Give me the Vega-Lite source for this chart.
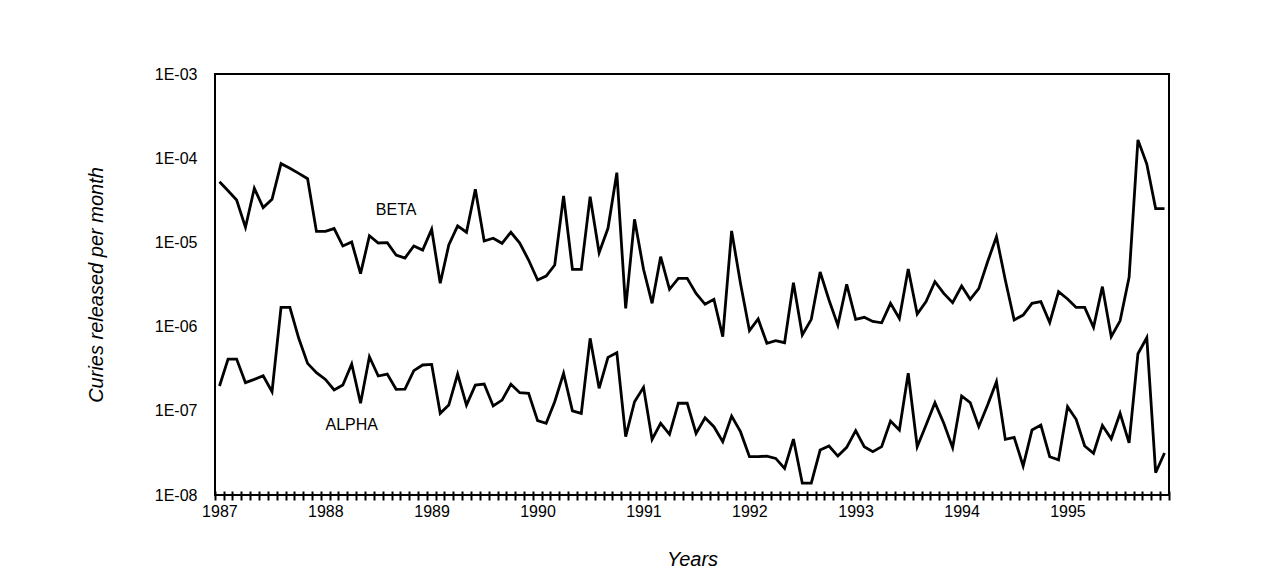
{
  "$schema": "https://vega.github.io/schema/vega-lite/v6.json",
  "width": 954,
  "height": 421,
  "autosize": {"type": "none"},
  "padding": {"left": 215, "top": 74, "right": 92, "bottom": 87},
  "background": "white",
  "config": {
    "view": {"stroke": "black", "strokeWidth": 2},
    "font": "Liberation Sans"
  },
  "datasets": {
    "series": [
      {"d": "1987-01", "s": "BETA", "v": 5.26e-5}, {"d": "1987-02", "s": "BETA", "v": 4.11e-5}, {"d": "1987-03", "s": "BETA", "v": 3.19e-5}, {"d": "1987-04", "s": "BETA", "v": 1.51e-5},
      {"d": "1987-05", "s": "BETA", "v": 4.39e-5}, {"d": "1987-06", "s": "BETA", "v": 2.59e-5}, {"d": "1987-07", "s": "BETA", "v": 3.25e-5}, {"d": "1987-08", "s": "BETA", "v": 8.61e-5},
      {"d": "1987-09", "s": "BETA", "v": 7.58e-5}, {"d": "1987-10", "s": "BETA", "v": 6.61e-5}, {"d": "1987-11", "s": "BETA", "v": 5.71e-5}, {"d": "1987-12", "s": "BETA", "v": 1.35e-5},
      {"d": "1988-01", "s": "BETA", "v": 1.35e-5}, {"d": "1988-02", "s": "BETA", "v": 1.46e-5}, {"d": "1988-03", "s": "BETA", "v": 9.06e-6}, {"d": "1988-04", "s": "BETA", "v": 1.01e-5},
      {"d": "1988-05", "s": "BETA", "v": 4.25e-6}, {"d": "1988-06", "s": "BETA", "v": 1.2e-5}, {"d": "1988-07", "s": "BETA", "v": 9.84e-6}, {"d": "1988-08", "s": "BETA", "v": 9.93e-6},
      {"d": "1988-09", "s": "BETA", "v": 7.08e-6}, {"d": "1988-10", "s": "BETA", "v": 6.53e-6}, {"d": "1988-11", "s": "BETA", "v": 9.06e-6}, {"d": "1988-12", "s": "BETA", "v": 8.12e-6},
      {"d": "1989-01", "s": "BETA", "v": 1.43e-5}, {"d": "1989-02", "s": "BETA", "v": 3.27e-6}, {"d": "1989-03", "s": "BETA", "v": 9.31e-6}, {"d": "1989-04", "s": "BETA", "v": 1.57e-5},
      {"d": "1989-05", "s": "BETA", "v": 1.32e-5}, {"d": "1989-06", "s": "BETA", "v": 4.27e-5}, {"d": "1989-07", "s": "BETA", "v": 1.04e-5}, {"d": "1989-08", "s": "BETA", "v": 1.12e-5},
      {"d": "1989-09", "s": "BETA", "v": 9.75e-6}, {"d": "1989-10", "s": "BETA", "v": 1.32e-5}, {"d": "1989-11", "s": "BETA", "v": 9.8e-6}, {"d": "1989-12", "s": "BETA", "v": 6.18e-6},
      {"d": "1990-01", "s": "BETA", "v": 3.58e-6}, {"d": "1990-02", "s": "BETA", "v": 3.99e-6}, {"d": "1990-03", "s": "BETA", "v": 5.39e-6}, {"d": "1990-04", "s": "BETA", "v": 3.56e-5},
      {"d": "1990-05", "s": "BETA", "v": 4.79e-6}, {"d": "1990-06", "s": "BETA", "v": 4.79e-6}, {"d": "1990-07", "s": "BETA", "v": 3.49e-5}, {"d": "1990-08", "s": "BETA", "v": 7.55e-6},
      {"d": "1990-09", "s": "BETA", "v": 1.47e-5}, {"d": "1990-10", "s": "BETA", "v": 6.73e-5}, {"d": "1990-11", "s": "BETA", "v": 1.65e-6}, {"d": "1990-12", "s": "BETA", "v": 1.88e-5},
      {"d": "1991-01", "s": "BETA", "v": 4.79e-6}, {"d": "1991-02", "s": "BETA", "v": 1.89e-6}, {"d": "1991-03", "s": "BETA", "v": 6.77e-6}, {"d": "1991-04", "s": "BETA", "v": 2.77e-6},
      {"d": "1991-05", "s": "BETA", "v": 3.74e-6}, {"d": "1991-06", "s": "BETA", "v": 3.74e-6}, {"d": "1991-07", "s": "BETA", "v": 2.48e-6}, {"d": "1991-08", "s": "BETA", "v": 1.84e-6},
      {"d": "1991-09", "s": "BETA", "v": 2.11e-6}, {"d": "1991-10", "s": "BETA", "v": 7.59e-7}, {"d": "1991-11", "s": "BETA", "v": 1.37e-5}, {"d": "1991-12", "s": "BETA", "v": 3.27e-6},
      {"d": "1992-01", "s": "BETA", "v": 8.95e-7}, {"d": "1992-02", "s": "BETA", "v": 1.23e-6}, {"d": "1992-03", "s": "BETA", "v": 6.33e-7}, {"d": "1992-04", "s": "BETA", "v": 6.81e-7},
      {"d": "1992-05", "s": "BETA", "v": 6.44e-7}, {"d": "1992-06", "s": "BETA", "v": 3.32e-6}, {"d": "1992-07", "s": "BETA", "v": 7.95e-7}, {"d": "1992-08", "s": "BETA", "v": 1.22e-6},
      {"d": "1992-09", "s": "BETA", "v": 4.45e-6}, {"d": "1992-10", "s": "BETA", "v": 2.07e-6}, {"d": "1992-11", "s": "BETA", "v": 1.04e-6}, {"d": "1992-12", "s": "BETA", "v": 3.18e-6},
      {"d": "1993-01", "s": "BETA", "v": 1.22e-6}, {"d": "1993-02", "s": "BETA", "v": 1.29e-6}, {"d": "1993-03", "s": "BETA", "v": 1.15e-6}, {"d": "1993-04", "s": "BETA", "v": 1.11e-6},
      {"d": "1993-05", "s": "BETA", "v": 1.89e-6}, {"d": "1993-06", "s": "BETA", "v": 1.25e-6}, {"d": "1993-07", "s": "BETA", "v": 4.83e-6}, {"d": "1993-08", "s": "BETA", "v": 1.41e-6},
      {"d": "1993-09", "s": "BETA", "v": 1.98e-6}, {"d": "1993-10", "s": "BETA", "v": 3.42e-6}, {"d": "1993-11", "s": "BETA", "v": 2.48e-6}, {"d": "1993-12", "s": "BETA", "v": 1.92e-6},
      {"d": "1994-01", "s": "BETA", "v": 3.03e-6}, {"d": "1994-02", "s": "BETA", "v": 2.11e-6}, {"d": "1994-03", "s": "BETA", "v": 2.82e-6}, {"d": "1994-04", "s": "BETA", "v": 5.9e-6},
      {"d": "1994-05", "s": "BETA", "v": 1.17e-5}, {"d": "1994-06", "s": "BETA", "v": 3.58e-6}, {"d": "1994-07", "s": "BETA", "v": 1.2e-6}, {"d": "1994-08", "s": "BETA", "v": 1.37e-6},
      {"d": "1994-09", "s": "BETA", "v": 1.89e-6}, {"d": "1994-10", "s": "BETA", "v": 1.98e-6}, {"d": "1994-11", "s": "BETA", "v": 1.12e-6}, {"d": "1994-12", "s": "BETA", "v": 2.6e-6},
      {"d": "1995-01", "s": "BETA", "v": 2.13e-6}, {"d": "1995-02", "s": "BETA", "v": 1.69e-6}, {"d": "1995-03", "s": "BETA", "v": 1.69e-6}, {"d": "1995-04", "s": "BETA", "v": 9.8e-7},
      {"d": "1995-05", "s": "BETA", "v": 2.98e-6}, {"d": "1995-06", "s": "BETA", "v": 7.6e-7}, {"d": "1995-07", "s": "BETA", "v": 1.17e-6}, {"d": "1995-08", "s": "BETA", "v": 3.84e-6},
      {"d": "1995-09", "s": "BETA", "v": 1.65e-4}, {"d": "1995-10", "s": "BETA", "v": 8.53e-5}, {"d": "1995-11", "s": "BETA", "v": 2.52e-5}, {"d": "1995-12", "s": "BETA", "v": 2.52e-5},
      {"d": "1987-01", "s": "ALPHA", "v": 1.97e-7}, {"d": "1987-02", "s": "ALPHA", "v": 4.12e-7}, {"d": "1987-03", "s": "ALPHA", "v": 4.12e-7}, {"d": "1987-04", "s": "ALPHA", "v": 2.16e-7},
      {"d": "1987-05", "s": "ALPHA", "v": 2.36e-7}, {"d": "1987-06", "s": "ALPHA", "v": 2.61e-7}, {"d": "1987-07", "s": "ALPHA", "v": 1.69e-7}, {"d": "1987-08", "s": "ALPHA", "v": 1.69e-6},
      {"d": "1987-09", "s": "ALPHA", "v": 1.69e-6}, {"d": "1987-10", "s": "ALPHA", "v": 7.26e-7}, {"d": "1987-11", "s": "ALPHA", "v": 3.66e-7}, {"d": "1987-12", "s": "ALPHA", "v": 2.84e-7},
      {"d": "1988-01", "s": "ALPHA", "v": 2.36e-7}, {"d": "1988-02", "s": "ALPHA", "v": 1.77e-7}, {"d": "1988-03", "s": "ALPHA", "v": 2.02e-7}, {"d": "1988-04", "s": "ALPHA", "v": 3.6e-7},
      {"d": "1988-05", "s": "ALPHA", "v": 1.23e-7}, {"d": "1988-06", "s": "ALPHA", "v": 4.39e-7}, {"d": "1988-07", "s": "ALPHA", "v": 2.59e-7}, {"d": "1988-08", "s": "ALPHA", "v": 2.73e-7},
      {"d": "1988-09", "s": "ALPHA", "v": 1.8e-7}, {"d": "1988-10", "s": "ALPHA", "v": 1.81e-7}, {"d": "1988-11", "s": "ALPHA", "v": 3.0e-7}, {"d": "1988-12", "s": "ALPHA", "v": 3.5e-7},
      {"d": "1989-01", "s": "ALPHA", "v": 3.56e-7}, {"d": "1989-02", "s": "ALPHA", "v": 9.33e-8}, {"d": "1989-03", "s": "ALPHA", "v": 1.17e-7}, {"d": "1989-04", "s": "ALPHA", "v": 2.73e-7},
      {"d": "1989-05", "s": "ALPHA", "v": 1.17e-7}, {"d": "1989-06", "s": "ALPHA", "v": 2.02e-7}, {"d": "1989-07", "s": "ALPHA", "v": 2.08e-7}, {"d": "1989-08", "s": "ALPHA", "v": 1.14e-7},
      {"d": "1989-09", "s": "ALPHA", "v": 1.34e-7}, {"d": "1989-10", "s": "ALPHA", "v": 2.07e-7}, {"d": "1989-11", "s": "ALPHA", "v": 1.64e-7}, {"d": "1989-12", "s": "ALPHA", "v": 1.61e-7},
      {"d": "1990-01", "s": "ALPHA", "v": 7.63e-8}, {"d": "1990-02", "s": "ALPHA", "v": 7.1e-8}, {"d": "1990-03", "s": "ALPHA", "v": 1.28e-7}, {"d": "1990-04", "s": "ALPHA", "v": 2.79e-7},
      {"d": "1990-05", "s": "ALPHA", "v": 1.0e-7}, {"d": "1990-06", "s": "ALPHA", "v": 9.33e-8}, {"d": "1990-07", "s": "ALPHA", "v": 7.26e-7}, {"d": "1990-08", "s": "ALPHA", "v": 1.85e-7},
      {"d": "1990-09", "s": "ALPHA", "v": 4.31e-7}, {"d": "1990-10", "s": "ALPHA", "v": 4.9e-7}, {"d": "1990-11", "s": "ALPHA", "v": 4.93e-8}, {"d": "1990-12", "s": "ALPHA", "v": 1.28e-7},
      {"d": "1991-01", "s": "ALPHA", "v": 1.9e-7}, {"d": "1991-02", "s": "ALPHA", "v": 4.58e-8}, {"d": "1991-03", "s": "ALPHA", "v": 7.1e-8}, {"d": "1991-04", "s": "ALPHA", "v": 5.25e-8},
      {"d": "1991-05", "s": "ALPHA", "v": 1.23e-7}, {"d": "1991-06", "s": "ALPHA", "v": 1.23e-7}, {"d": "1991-07", "s": "ALPHA", "v": 5.39e-8}, {"d": "1991-08", "s": "ALPHA", "v": 8.28e-8},
      {"d": "1991-09", "s": "ALPHA", "v": 6.48e-8}, {"d": "1991-10", "s": "ALPHA", "v": 4.3e-8}, {"d": "1991-11", "s": "ALPHA", "v": 8.67e-8}, {"d": "1991-12", "s": "ALPHA", "v": 5.65e-8},
      {"d": "1992-01", "s": "ALPHA", "v": 2.85e-8}, {"d": "1992-02", "s": "ALPHA", "v": 2.85e-8}, {"d": "1992-03", "s": "ALPHA", "v": 2.9e-8}, {"d": "1992-04", "s": "ALPHA", "v": 2.72e-8},
      {"d": "1992-05", "s": "ALPHA", "v": 2.07e-8}, {"d": "1992-06", "s": "ALPHA", "v": 4.62e-8}, {"d": "1992-07", "s": "ALPHA", "v": 1.38e-8}, {"d": "1992-08", "s": "ALPHA", "v": 1.38e-8},
      {"d": "1992-09", "s": "ALPHA", "v": 3.42e-8}, {"d": "1992-10", "s": "ALPHA", "v": 3.82e-8}, {"d": "1992-11", "s": "ALPHA", "v": 2.9e-8}, {"d": "1992-12", "s": "ALPHA", "v": 3.68e-8},
      {"d": "1993-01", "s": "ALPHA", "v": 5.81e-8}, {"d": "1993-02", "s": "ALPHA", "v": 3.75e-8}, {"d": "1993-03", "s": "ALPHA", "v": 3.27e-8}, {"d": "1993-04", "s": "ALPHA", "v": 3.75e-8},
      {"d": "1993-05", "s": "ALPHA", "v": 7.57e-8}, {"d": "1993-06", "s": "ALPHA", "v": 5.92e-8}, {"d": "1993-07", "s": "ALPHA", "v": 2.79e-7}, {"d": "1993-08", "s": "ALPHA", "v": 3.75e-8},
      {"d": "1993-09", "s": "ALPHA", "v": 6.78e-8}, {"d": "1993-10", "s": "ALPHA", "v": 1.25e-7}, {"d": "1993-11", "s": "ALPHA", "v": 7.1e-8}, {"d": "1993-12", "s": "ALPHA", "v": 3.65e-8},
      {"d": "1994-01", "s": "ALPHA", "v": 1.5e-7}, {"d": "1994-02", "s": "ALPHA", "v": 1.25e-7}, {"d": "1994-03", "s": "ALPHA", "v": 6.48e-8}, {"d": "1994-04", "s": "ALPHA", "v": 1.17e-7},
      {"d": "1994-05", "s": "ALPHA", "v": 2.22e-7}, {"d": "1994-06", "s": "ALPHA", "v": 4.58e-8}, {"d": "1994-07", "s": "ALPHA", "v": 4.84e-8}, {"d": "1994-08", "s": "ALPHA", "v": 2.21e-8},
      {"d": "1994-09", "s": "ALPHA", "v": 5.92e-8}, {"d": "1994-10", "s": "ALPHA", "v": 6.78e-8}, {"d": "1994-11", "s": "ALPHA", "v": 2.85e-8}, {"d": "1994-12", "s": "ALPHA", "v": 2.61e-8},
      {"d": "1995-01", "s": "ALPHA", "v": 1.12e-7}, {"d": "1995-02", "s": "ALPHA", "v": 7.92e-8}, {"d": "1995-03", "s": "ALPHA", "v": 3.82e-8}, {"d": "1995-04", "s": "ALPHA", "v": 3.13e-8},
      {"d": "1995-05", "s": "ALPHA", "v": 6.7e-8}, {"d": "1995-06", "s": "ALPHA", "v": 4.65e-8}, {"d": "1995-07", "s": "ALPHA", "v": 9.35e-8}, {"d": "1995-08", "s": "ALPHA", "v": 4.15e-8},
      {"d": "1995-09", "s": "ALPHA", "v": 4.76e-7}, {"d": "1995-10", "s": "ALPHA", "v": 7.38e-7}, {"d": "1995-11", "s": "ALPHA", "v": 1.84e-8}, {"d": "1995-12", "s": "ALPHA", "v": 3.15e-8}
    ],
    "labels": [
      {"d": "1988-09", "s": "BETA", "v": 2.43e-5},
      {"d": "1988-04", "s": "ALPHA", "v": 6.8e-8}
    ]
  },
  "layer": [
    {
      "data": {"name": "series"},
      "mark": {"type": "line", "color": "black", "strokeWidth": 2.8, "strokeJoin": "miter"},
      "encoding": {
        "x": {
          "field": "d", "type": "temporal", "timeUnit": "utcyearmonth", "bandPosition": 0.5,
          "scale": {"type": "utc", "domain": [{"year": 1987, "month": 1, "date": 1, "utc": true}, {"year": 1996, "month": 1, "date": 1, "utc": true}]},
          "axis": {
            "title": "Years",
            "tickCount": {"interval": "month", "step": 1},
            "labelExpr": "utcmonth(datum.value) == 0 && utcyear(datum.value) < 1996 ? '' + utcyear(datum.value) : ''",
            "labelOverlap": false, "labelFlush": false, "labelBound": false,
            "grid": false, "domain": false, "offset": -4,
            "tickSize": 9, "tickColor": "black", "tickWidth": 2,
            "labelFontSize": 16, "labelColor": "black", "labelPadding": 3, "labelOffset": 4.4,
            "titleFontSize": 20, "titleFontStyle": "italic", "titleFontWeight": "normal", "titleColor": "black", "titlePadding": 30
          }
        },
        "y": {
          "field": "v", "type": "quantitative",
          "scale": {"type": "log", "domain": [1e-8, 1e-3]},
          "axis": {
            "title": "Curies released per month",
            "values": [1e-8, 1e-7, 1e-6, 1e-5, 1e-4, 1e-3],
            "labelExpr": "'1E-0' + round(-log(datum.value) / LN10)",
            "ticks": false, "domain": false, "grid": false,
            "labelFontSize": 16, "labelPadding": 18, "labelColor": "black",
            "titleFontSize": 20, "titleFontStyle": "italic", "titleFontWeight": "normal", "titleColor": "black", "titlePadding": 48
          }
        },
        "detail": {"field": "s"}
      }
    },
    {
      "data": {"name": "labels"},
      "mark": {"type": "text", "fontSize": 16, "font": "Liberation Sans", "color": "black", "align": "center", "baseline": "middle"},
      "encoding": {
        "x": {"field": "d", "type": "temporal", "timeUnit": "utcyearmonth", "bandPosition": 0.5},
        "y": {"field": "v", "type": "quantitative"},
        "text": {"field": "s"}
      }
    }
  ]
}
